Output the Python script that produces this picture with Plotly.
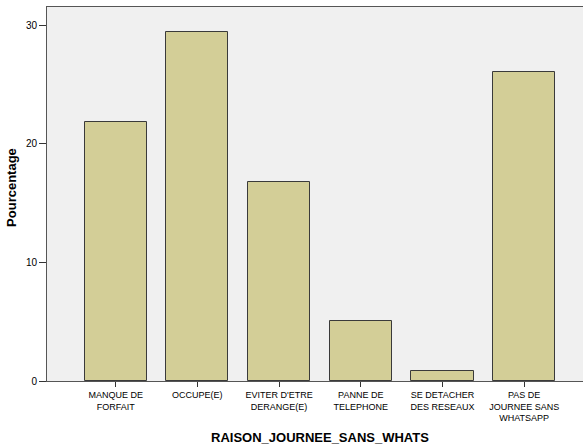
import plotly.graph_objects as go

categories = ["MANQUE DE<br>FORFAIT", "OCCUPE(E)", "EVITER D'ETRE<br>DERANGE(E)",
              "PANNE DE<br>TELEPHONE", "SE DETACHER<br>DES RESEAUX",
              "PAS DE<br>JOURNEE SANS<br>WHATSAPP"]
values = [21.85, 29.41, 16.81, 5.04, 0.84, 26.05]
y_ticks = [0, 10, 20, 30]
x_title = "RAISON_JOURNEE_SANS_WHATS"
y_title = "Pourcentage"

x_idx = list(range(len(categories)))

fig = go.Figure(go.Bar(
    x=x_idx, y=values, width=0.76,
    marker=dict(color="#D3CE97", line=dict(color="#3a3a3a", width=1)),
))

fig.update_layout(
    width=584, height=448,
    margin=dict(l=47, r=1, t=7, b=67, autoexpand=False),
    paper_bgcolor="white", plot_bgcolor="#F0F0F0",
    font=dict(family="Liberation Sans, Arial", color="black"),
    showlegend=False,
    bargap=0,
    annotations=[
        dict(text="<b>" + x_title + "</b>", xref="paper", yref="paper",
             x=0.509, y=-0.152, showarrow=False, font=dict(size=13),
             xanchor="center", yanchor="middle"),
        dict(text="<b>" + y_title + "</b>", xref="paper", yref="paper",
             x=-0.0653, y=0.519, showarrow=False, font=dict(size=13),
             textangle=-90, xanchor="center", yanchor="middle"),
    ],
)
fig.update_xaxes(
    range=[-0.84, 5.72], tickmode="array", tickvals=x_idx, ticktext=categories,
    tickfont=dict(size=9), ticks="outside", ticklen=5, tickcolor="#333",
    showline=True, linecolor="#555", linewidth=1, mirror=True,
    showgrid=False, zeroline=False, automargin=False,
)
fig.update_yaxes(
    range=[0, 31.55], tickmode="array", tickvals=y_ticks,
    tickfont=dict(size=10), ticks="outside", ticklen=7, tickcolor="#333",
    showline=True, linecolor="#555", linewidth=1,
    showgrid=False, zeroline=False, automargin=False,
)

fig.write_html("out.html", config={"displayModeBar": False},
               post_script="document.body.style.margin='0';document.body.style.padding='0';")
